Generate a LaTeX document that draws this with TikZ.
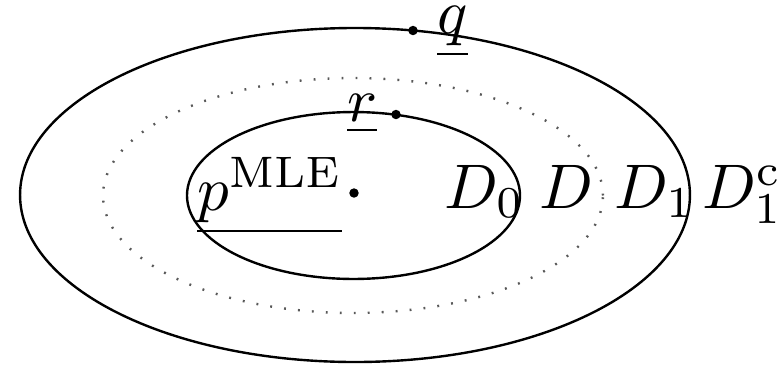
\documentclass[tikz,border=0pt]{standalone}
\begin{document}
\begin{tikzpicture}[x=0.15873pt,y=-0.15873pt,
  solidline/.style={line width=0.38pt,black},
  dotline/.style={line width=0.38pt,black!65,dash pattern=on 0.3pt off 1.92pt},
  pt/.style={circle,fill=black,inner sep=0pt,minimum size=1.5pt},
  lab/.style={anchor=base west,inner sep=0pt,font=\fontsize{10}{12}\selectfont}]
\useasboundingbox (0,0) rectangle (777,367);
\coordinate (c) at (355,195);
\draw[solidline] (c) ellipse [x radius=53.17pt, y radius=26.51pt];
\draw[dotline] (353,195.5) ellipse [x radius=39.68pt, y radius=18.65pt];
\draw[solidline] (353.5,195.5) ellipse [x radius=26.43pt, y radius=13.25pt];
\node[pt] (qdot) at (413,30.5) {};
\node[pt] (rdot) at (396,114.5) {};
\node[pt] (mledot) at (354,193) {};
\node[lab] (q) at (436,33) {$\underline{q}$};
\node[lab] (r) at (346,121) {$\underline{r}$};
\node[lab] (p) at (196,210) {$\underline{p^{\mathrm{MLE}}}$};
\node[lab] (d0) at (443,208) {$D_0$};
\node[lab] (d) at (538,208) {$D$};
\node[lab] (d1) at (613,208) {$D_1$};
\node[lab] (d1c) at (701,208) {$D_1^{\mathrm{c}}$};
\end{tikzpicture}
\end{document}
